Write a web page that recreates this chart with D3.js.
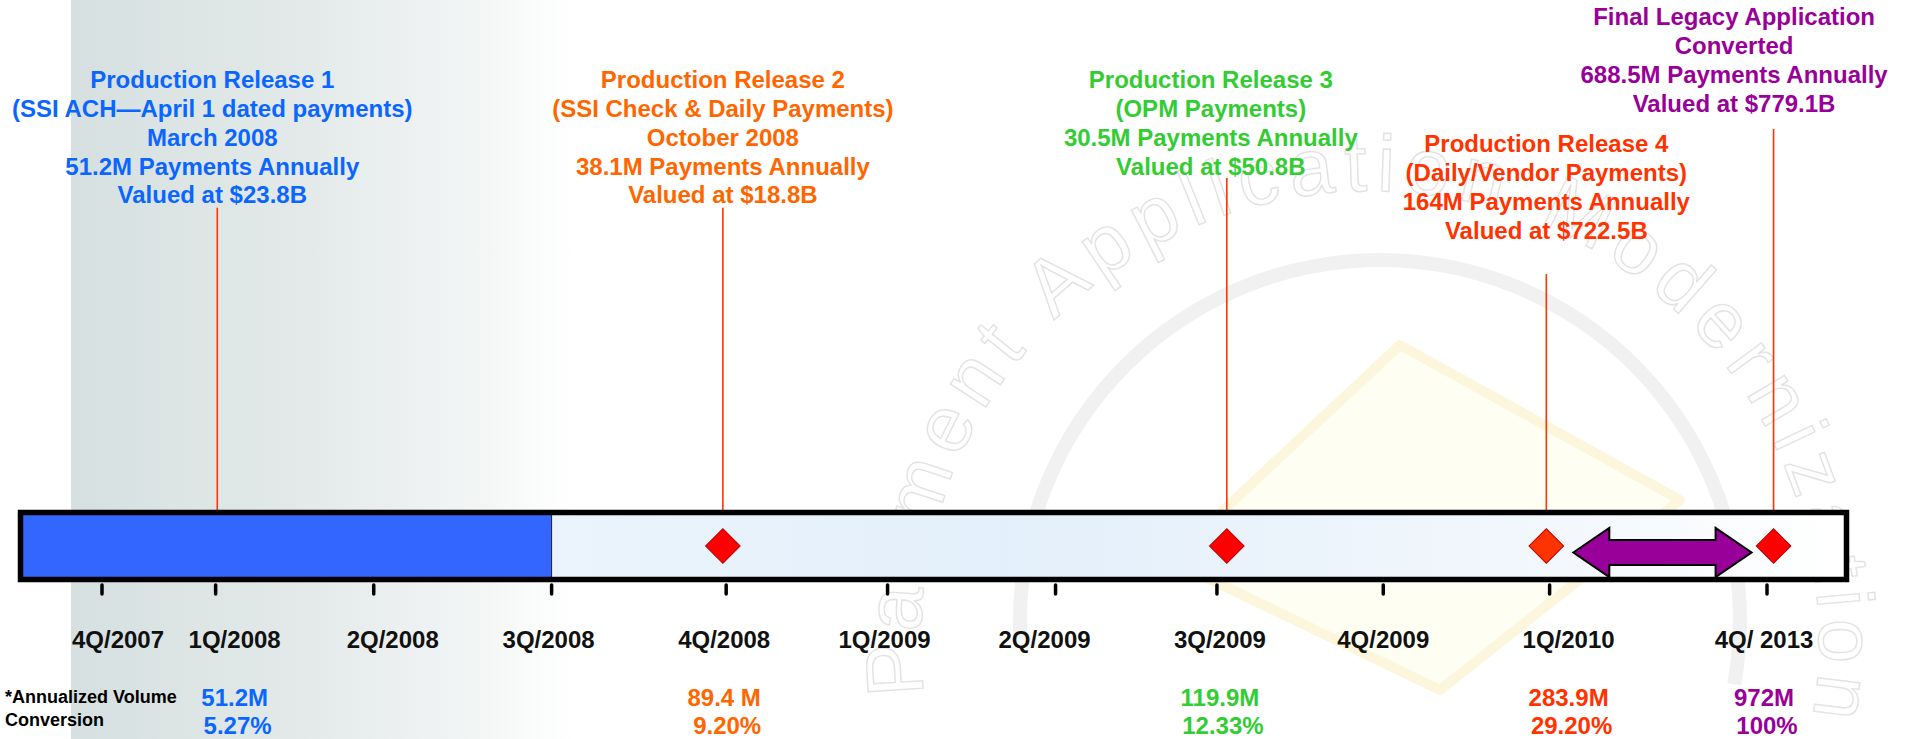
<!DOCTYPE html>
<html>
<head>
<meta charset="utf-8">
<script src="https://cdn.jsdelivr.net/npm/d3@7"></script>
<style>
body { margin: 0; background: #fff; }
svg { display: block; font-family: "Liberation Sans", Arial, sans-serif; font-weight: bold; }
</style>
</head>
<body>
<script>
// quarters on the timeline, position in quarter-widths
var quarters = ["4Q/2007", "1Q/2008", "2Q/2008", "3Q/2008", "4Q/2008", "1Q/2009",
                "2Q/2009", "3Q/2009", "4Q/2009", "1Q/2010", "4Q/ 2013"];
var quarterAt = [0, 0.69, 1.65, 2.73, 3.79, 4.77, 5.79, 6.77, 7.78, 8.79, 10.11];
var doneThrough = "3Q/2008";

var releaseLines = [
    ["Production Release 1", "(SSI ACH\u2014April 1 dated payments)", "March 2008", "51.2M Payments Annually", "Valued at $23.8B"],
    ["Production Release 2", "(SSI Check & Daily Payments)", "October 2008", "38.1M Payments Annually", "Valued at $18.8B"],
    ["Production Release 3", "(OPM Payments)", "30.5M Payments Annually", "Valued at $50.8B"],
    ["Production Release 4", "(Daily/Vendor Payments)", "164M Payments Annually", "Valued at $722.5B"],
    ["Final Legacy Application", "Converted", "688.5M Payments Annually", "Valued at $779.1B"]
];
var releaseAt = [0.70, 3.77, 6.83, 8.77, 10.15];
var releaseQuarter = ["1Q/2008", "4Q/2008", "3Q/2009", "1Q/2010", "4Q/ 2013"];
var releaseColor = ["#0a66ff", "#ff6600", "#33cc33", "#ff3300", "#990099"];
var diamondColor = [null, "#ff0000", "#ff0000", "#ff3300", "#ff0000"];
var volume = ["51.2M", "89.4 M", "119.9M", "283.9M", "972M"];
var volumePct = ["5.27%", "9.20%", "12.33%", "29.20%", "100%"];
var footNote = ["*Annualized Volume", "Conversion"];
var watermark = "Payment Application Modernization";

// layout
var W = 1913, H = 739;
var barL = 20.5, barR = 1846.5, barT = 512.5, barB = 579.5;
var midY = (barT + barB) / 2;
var lineH = 28.7;
var labelTop = [80, 80, 80, 144, 17];
var leaderGap = [13, 13, 12, 44, 26];
var blockNudge = [-5, 0, -16, 0, 0];
var labelNudge = [16, 19, 19, -3, -2, -3, -11, 3, 0, 19, -3];

var svg = d3.select("body").append("svg")
    .attr("width", W)
    .attr("height", H);
var defs = svg.append("defs");

var x = d3.scaleLinear()
    .domain([quarterAt[0], quarterAt[quarterAt.length - 1]])
    .range([102, 1767]);
function labelX(q) {
    var i = quarters.indexOf(q);
    return x(quarterAt[i]) + labelNudge[i];
}

// backgrounds
var g1 = defs.append("linearGradient").attr("id", "side")
    .attr("gradientUnits", "userSpaceOnUse").attr("x1", 71).attr("x2", 575).attr("y1", 0).attr("y2", 0);
g1.append("stop").attr("offset", 0).attr("stop-color", "#d6e0e0");
g1.append("stop").attr("offset", 0.45).attr("stop-color", "#e3e9e9");
g1.append("stop").attr("offset", 0.75).attr("stop-color", "#f0f3f3");
g1.append("stop").attr("offset", 1).attr("stop-color", "#ffffff");
svg.append("rect").attr("x", 71).attr("y", 0).attr("width", 504).attr("height", H).attr("fill", "url(#side)");

var g2 = defs.append("linearGradient").attr("id", "barFill")
    .attr("gradientUnits", "userSpaceOnUse").attr("x1", 550).attr("x2", barR).attr("y1", 0).attr("y2", 0);
g2.append("stop").attr("offset", 0).attr("stop-color", "#ebf4fc");
g2.append("stop").attr("offset", 0.35).attr("stop-color", "#e3effa");
g2.append("stop").attr("offset", 0.75).attr("stop-color", "#f2f7fc");
g2.append("stop").attr("offset", 1).attr("stop-color", "#ffffff");

// faint watermark emblem
var wm = svg.append("g");
wm.append("path")
    .attr("d", d3.line().curve(d3.curveLinearClosed)([[1400, 345], [1680, 500], [1440, 690], [1170, 560]]))
    .attr("fill", "#fffef3")
    .attr("stroke", "#fbf6dc")
    .attr("stroke-width", 10)
    .attr("stroke-linejoin", "round");
wm.append("path")
    .attr("d", d3.arc()({innerRadius: 353, outerRadius: 367, startAngle: -1.62, endAngle: 1.75}))
    .attr("transform", "translate(1380,620)")
    .attr("fill", "#f1f1f1");

var wmC = [1370, 640], wmR = 449, wmFont = 80, wmSpace = 9;
var meas = svg.append("text").attr("font-size", wmFont).attr("font-weight", "normal");
var chars = watermark.split("");
var adv = chars.map(function (c) {
    meas.text(c === " " ? "\u00a0" : c);
    return meas.node().getComputedTextLength();
});
meas.remove();
var s = 0, th0 = 173 * Math.PI / 180;
var wmLetters = chars.map(function (c, i) {
    var mid = s + adv[i] / 2;
    s += adv[i] + wmSpace;
    return {c: c, th: th0 + mid / wmR};
}).filter(function (d) { return d.c !== " "; });
wm.selectAll(".wml")
    .data(wmLetters)
    .enter().append("text")
    .attr("class", "wml")
    .attr("transform", function (d) {
        var px = wmC[0] + wmR * Math.cos(d.th), py = wmC[1] + wmR * Math.sin(d.th);
        return "translate(" + px + "," + py + ") rotate(" + (d.th * 180 / Math.PI + 90) + ")";
    })
    .attr("text-anchor", "middle")
    .attr("font-size", wmFont)
    .attr("font-weight", "normal")
    .attr("fill", "none")
    .attr("stroke", "#e3e3e3")
    .attr("stroke-width", 1.4)
    .text(function (d) { return d.c; });

// release label blocks + leader lines
releaseLines.forEach(function (lines, i) {
    var blk = svg.append("text")
        .attr("font-size", 24)
        .attr("fill", releaseColor[i])
        .attr("text-anchor", "middle");
    lines.forEach(function (s, j) {
        blk.append("tspan").attr("x", 0).attr("y", labelTop[i] + j * lineH).attr("dy", "0.35em").text(s);
    });
    var w = blk.node().getBBox().width;
    var cxx = x(releaseAt[i]) + blockNudge[i];
    cxx = Math.min(cxx, W - 25 - w / 2);
    cxx = Math.max(cxx, 6 + w / 2);
    blk.attr("transform", "translate(" + cxx + ",0)");

    var y0 = labelTop[i] + (lines.length - 1) * lineH + leaderGap[i];
    var y1 = diamondColor[i] ? midY - 17 : barT - 2;
    svg.append("line")
        .attr("x1", x(releaseAt[i])).attr("x2", x(releaseAt[i]))
        .attr("y1", y0).attr("y2", y1)
        .attr("stroke", "#ff3300").attr("stroke-width", 1.6);
});

// timeline bar
svg.append("rect")
    .attr("x", barL).attr("y", barT).attr("width", barR - barL).attr("height", barB - barT)
    .attr("fill", "url(#barFill)");
var doneX = x(quarterAt[quarters.indexOf(doneThrough)]);
svg.append("rect")
    .attr("x", barL).attr("y", barT).attr("width", doneX - barL).attr("height", barB - barT)
    .attr("fill", "#3366ff").attr("stroke", "#1a1a40").attr("stroke-width", 1);
svg.append("rect")
    .attr("x", barL).attr("y", barT).attr("width", barR - barL).attr("height", barB - barT)
    .attr("fill", "none").attr("stroke", "#000").attr("stroke-width", 5.5);

// remaining-migration double arrow
var aL = x(releaseAt[3]) + 27, aR = x(releaseAt[4]) - 22, ay = midY + 6.5;
var hw = 36, hh = 24.5, sh = 12.5;
var arrowPts = [[aL, ay], [aL + hw, ay - hh], [aL + hw, ay - sh], [aR - hw, ay - sh], [aR - hw, ay - hh],
                [aR, ay], [aR - hw, ay + hh], [aR - hw, ay + sh], [aL + hw, ay + sh], [aL + hw, ay + hh]];
svg.append("path")
    .attr("d", d3.line()(arrowPts) + "Z")
    .attr("fill", "#990099").attr("stroke", "#000").attr("stroke-width", 2)
    .attr("stroke-linejoin", "miter");

// milestone diamonds
svg.selectAll(".dia")
    .data(releaseAt.map(function (d, i) { return i; }).filter(function (i) { return diamondColor[i]; }))
    .enter().append("path")
    .attr("class", "dia")
    .attr("d", d3.symbol(d3.symbolSquare, 600)())
    .attr("transform", function (i) { return "translate(" + x(releaseAt[i]) + "," + midY + ") rotate(45)"; })
    .attr("fill", function (i) { return diamondColor[i]; })
    .attr("stroke", "#c00000").attr("stroke-width", 1);

// quarter ticks and labels
svg.selectAll(".tick")
    .data(quarters)
    .enter().append("line")
    .attr("class", "tick")
    .attr("x1", function (d, i) { return x(quarterAt[i]); })
    .attr("x2", function (d, i) { return x(quarterAt[i]); })
    .attr("y1", 585).attr("y2", 594)
    .attr("stroke", "#000").attr("stroke-width", 3.5).attr("stroke-linecap", "round");

svg.selectAll(".qlab")
    .data(quarters)
    .enter().append("text")
    .attr("class", "qlab")
    .attr("x", function (d) { return labelX(d); })
    .attr("y", 640).attr("dy", "0.35em")
    .attr("text-anchor", "middle")
    .attr("font-size", 24)
    .attr("fill", "#111")
    .text(function (d) { return d; });

// cumulative volume converted
svg.selectAll(".vol")
    .data(volume)
    .enter().append("text")
    .attr("class", "vol")
    .attr("x", function (d, i) { return labelX(releaseQuarter[i]); })
    .attr("y", 698).attr("dy", "0.35em")
    .attr("text-anchor", "middle").attr("font-size", 24)
    .attr("fill", function (d, i) { return releaseColor[i]; })
    .text(function (d) { return d; });
svg.selectAll(".pct")
    .data(volumePct)
    .enter().append("text")
    .attr("class", "pct")
    .attr("x", function (d, i) { return labelX(releaseQuarter[i]) + 3; })
    .attr("y", 726).attr("dy", "0.35em")
    .attr("text-anchor", "middle").attr("font-size", 24)
    .attr("fill", function (d, i) { return releaseColor[i]; })
    .text(function (d) { return d; });

svg.selectAll(".foot")
    .data(footNote)
    .enter().append("text")
    .attr("class", "foot")
    .attr("x", 5)
    .attr("y", function (d, i) { return 697 + i * 23; }).attr("dy", "0.35em")
    .attr("font-size", 18).attr("fill", "#000")
    .text(function (d) { return d; });
</script>
</body>
</html>
